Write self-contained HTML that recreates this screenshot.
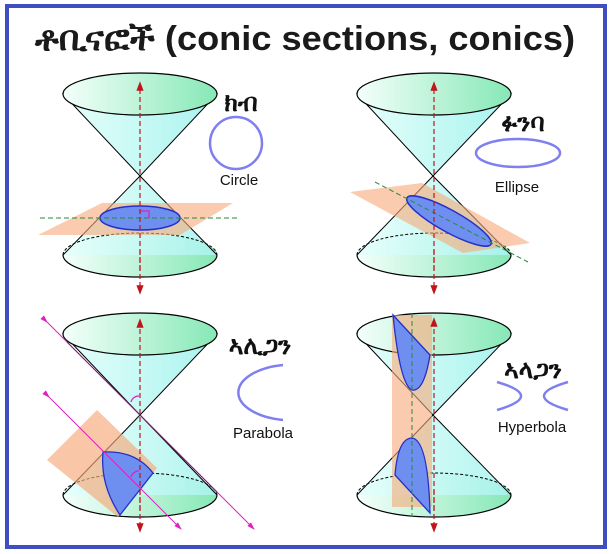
<!DOCTYPE html>
<html><head><meta charset="utf-8"><style>
html,body{margin:0;padding:0;background:#fff;}
svg{display:block;}
text{font-family:"Liberation Sans","DejaVu Sans",sans-serif;}
</style></head><body>
<svg width="612" height="554" viewBox="0 0 612 554" xmlns="http://www.w3.org/2000/svg">
<defs>
<linearGradient id="g" x1="0" x2="1"><stop offset="0" stop-color="#f4fffb"/><stop offset="1" stop-color="#86e8b6"/></linearGradient>
<linearGradient id="c" x1="0" x2="1"><stop offset="0" stop-color="#e6fffb"/><stop offset="1" stop-color="#a9f3ee"/></linearGradient>
<marker id="ar" markerWidth="8" markerHeight="8" refX="4" refY="4" orient="auto"><path d="M0,1 L8,4 L0,7 Z" fill="#c0141a"/></marker>
<marker id="am" markerWidth="8" markerHeight="8" refX="4" refY="4" orient="auto"><path d="M0,1.5 L8,4 L0,6.5 Z" fill="#e020c0"/></marker>
</defs>
<rect x="7" y="6" width="598" height="541" fill="#fff" stroke="#3f4fc2" stroke-width="4"/>
<text x="35" y="50" font-size="34" font-weight="bold" fill="#1a1a1a" textLength="540" lengthAdjust="spacingAndGlyphs">ቶቢናፎች (conic sections, conics)</text>

<!-- panel1 cones -->
<path d="M63,94 L140,176 L217,94 Z" fill="url(#c)" stroke="#000"/>
<ellipse cx="140" cy="94" rx="77" ry="21" fill="url(#g)" stroke="#000" stroke-width="1.2"/>
<ellipse cx="140" cy="255" rx="77" ry="22" fill="url(#g)"/>
<path d="M63,255 L140,176 L217,255 Z" fill="url(#c)" opacity="0.9"/>
<path d="M63,255 L140,176 L217,255" fill="none" stroke="#000"/>
<path d="M63,255 A77,22 0 0 0 217,255" fill="none" stroke="#000" stroke-width="1.2"/>
<path d="M63,255 A77,22 0 0 1 217,255" fill="none" stroke="#000" stroke-dasharray="3,2"/>
<!-- panel2 cones -->
<path d="M357,94 L433,176 L511,94 Z" fill="url(#c)" stroke="#000"/>
<ellipse cx="434" cy="94" rx="77" ry="21" fill="url(#g)" stroke="#000" stroke-width="1.2"/>
<ellipse cx="434" cy="255" rx="77" ry="22" fill="url(#g)"/>
<path d="M357,255 L433,176 L511,255 Z" fill="url(#c)" opacity="0.9"/>
<path d="M357,255 L433,176 L511,255" fill="none" stroke="#000"/>
<path d="M357,255 A77,22 0 0 0 511,255" fill="none" stroke="#000" stroke-width="1.2"/>
<path d="M357,255 A77,22 0 0 1 511,255" fill="none" stroke="#000" stroke-dasharray="3,2"/>
<!-- panel3 cones -->
<path d="M63,334 L140,415 L217,334 Z" fill="url(#c)" stroke="#000"/>
<ellipse cx="140" cy="334" rx="77" ry="21" fill="url(#g)" stroke="#000" stroke-width="1.2"/>
<ellipse cx="140" cy="495" rx="77" ry="22" fill="url(#g)"/>
<path d="M63,495 L140,415 L217,495 Z" fill="url(#c)" opacity="0.9"/>
<path d="M63,495 L140,415 L217,495" fill="none" stroke="#000"/>
<path d="M63,495 A77,22 0 0 0 217,495" fill="none" stroke="#000" stroke-width="1.2"/>
<path d="M63,495 A77,22 0 0 1 217,495" fill="none" stroke="#000" stroke-dasharray="3,2"/>
<!-- panel4 cones -->
<path d="M357,334 L433,415 L511,334 Z" fill="url(#c)" stroke="#000"/>
<ellipse cx="434" cy="334" rx="77" ry="21" fill="url(#g)" stroke="#000" stroke-width="1.2"/>
<ellipse cx="434" cy="495" rx="77" ry="22" fill="url(#g)"/>
<path d="M357,495 L433,415 L511,495 Z" fill="url(#c)" opacity="0.9"/>
<path d="M357,495 L433,415 L511,495" fill="none" stroke="#000"/>
<path d="M357,495 A77,22 0 0 0 511,495" fill="none" stroke="#000" stroke-width="1.2"/>
<path d="M357,495 A77,22 0 0 1 511,495" fill="none" stroke="#000" stroke-dasharray="3,2"/>

<!-- panel1 details -->
<polygon points="38,235 102,203 233,203 180,235" fill="#f6a878" opacity="0.6"/>
<ellipse cx="140" cy="218" rx="40" ry="12" fill="#6f8ff0" stroke="#2430c8" stroke-width="1.5"/>
<line x1="40" y1="218" x2="240" y2="218" stroke="#2a8a3a" stroke-dasharray="5,3"/>
<path d="M140,211 H149 V218" fill="none" stroke="#e020c0" stroke-width="1.3"/>
<line x1="140" y1="270" x2="140" y2="86" stroke="#c0141a" stroke-dasharray="5,3" marker-end="url(#ar)" stroke-width="1.2"/>
<line x1="140" y1="250" x2="140" y2="290" stroke="#c0141a" stroke-dasharray="5,3" marker-end="url(#ar)" stroke-width="1.2"/>
<text x="241" y="111" font-size="25" font-weight="bold" text-anchor="middle" fill="#111">ክብ</text>
<ellipse cx="236" cy="143" rx="26" ry="26" fill="none" stroke="#7f7ff0" stroke-width="2.5"/>
<text x="239" y="185" font-size="15" text-anchor="middle" fill="#111">Circle</text>

<!-- panel2 details -->
<polygon points="350,192 422,183 530,243 463,253" fill="#f6a878" opacity="0.6"/>
<ellipse cx="449" cy="221" rx="48" ry="11" transform="rotate(29 449 221)" fill="#6f8ff0" stroke="#2430c8" stroke-width="1.5"/>
<line x1="375" y1="182" x2="528" y2="262" stroke="#2a8a3a" stroke-dasharray="5,3"/>
<line x1="434" y1="270" x2="434" y2="86" stroke="#c0141a" stroke-dasharray="5,3" marker-end="url(#ar)" stroke-width="1.2"/>
<line x1="434" y1="250" x2="434" y2="290" stroke="#c0141a" stroke-dasharray="5,3" marker-end="url(#ar)" stroke-width="1.2"/>
<text x="523" y="131" font-size="25" font-weight="bold" text-anchor="middle" fill="#111">ፉንባ</text>
<ellipse cx="518" cy="153" rx="42" ry="14" fill="none" stroke="#7f7ff0" stroke-width="2.5"/>
<text x="517" y="192" font-size="15" text-anchor="middle" fill="#111">Ellipse</text>

<!-- panel3 details -->
<polygon points="47,460 97,410 157,468 118,517" fill="#f6a878" opacity="0.65"/>
<path d="M103,452 Q135,450 153,473 L120,515 Q100,485 103,452 Z" fill="#6f8ff0" stroke="#2430c8" stroke-width="1.3"/>
<path d="M131,402 A8,8 0 0 1 139,396" fill="none" stroke="#e020c0" stroke-width="1.3"/>
<path d="M131,477 A8,8 0 0 1 139,471" fill="none" stroke="#e020c0" stroke-width="1.3"/>
<line x1="140" y1="510" x2="140" y2="323" stroke="#c0141a" stroke-dasharray="5,3" marker-end="url(#ar)" stroke-width="1.2"/>
<line x1="140" y1="490" x2="140" y2="528" stroke="#c0141a" stroke-dasharray="5,3" marker-end="url(#ar)" stroke-width="1.2"/>
<line x1="45" y1="320" x2="252" y2="527" stroke="#e020c0" stroke-width="1" marker-start="url(#am)" marker-end="url(#am)"/>
<line x1="67" y1="342" x2="217" y2="492" stroke="#6a2a6a" stroke-width="1"/>
<line x1="47" y1="395" x2="179" y2="527" stroke="#e020c0" stroke-width="1" marker-start="url(#am)" marker-end="url(#am)"/>
<text x="260" y="354" font-size="25" font-weight="bold" text-anchor="middle" fill="#111">ኣሊጋን</text>
<path d="M283,365 A55,28 0 0 0 283,420" fill="none" stroke="#7f7ff0" stroke-width="2.5"/>
<text x="263" y="438" font-size="15" text-anchor="middle" fill="#111">Parabola</text>

<!-- panel4 details -->
<rect x="392" y="315" width="40" height="192" fill="#f6a878" opacity="0.6"/>
<path d="M393,315 L430,355 Q424,392 412,390 Q400,385 393,315 Z" fill="#6f8ff0" stroke="#2430c8" stroke-width="1.3"/>
<path d="M412,438 Q428,440 430,513 L395,475 Q398,438 412,438 Z" fill="#6f8ff0" stroke="#2430c8" stroke-width="1.3"/>
<line x1="412" y1="313" x2="412" y2="517" stroke="#2a8a3a" stroke-dasharray="5,3"/>
<line x1="434" y1="510" x2="434" y2="322" stroke="#c0141a" stroke-dasharray="5,3" marker-end="url(#ar)" stroke-width="1.2"/>
<line x1="434" y1="490" x2="434" y2="528" stroke="#c0141a" stroke-dasharray="5,3" marker-end="url(#ar)" stroke-width="1.2"/>
<text x="533" y="378" font-size="25" font-weight="bold" text-anchor="middle" fill="#111">ኣላጋን</text>
<path d="M497,382 Q545,396 497,410" fill="none" stroke="#7f7ff0" stroke-width="2.5"/>
<path d="M568,382 Q520,396 568,410" fill="none" stroke="#7f7ff0" stroke-width="2.5"/>
<text x="532" y="432" font-size="15" text-anchor="middle" fill="#111">Hyperbola</text>
</svg>
</body></html>
